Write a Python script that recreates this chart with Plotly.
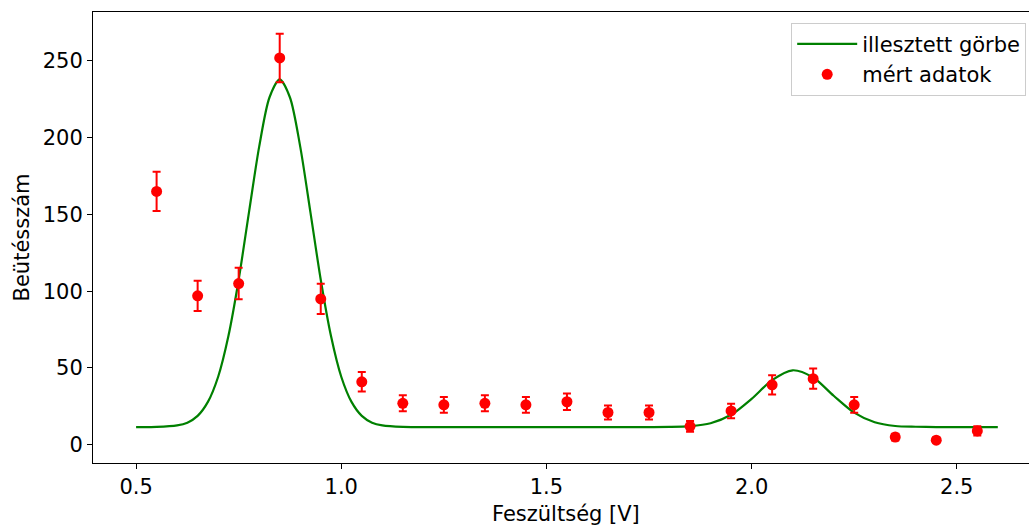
import plotly.graph_objects as go

# measured points
voltage = [0.55, 0.65, 0.75, 0.85, 0.95, 1.05, 1.15, 1.25, 1.35, 1.45, 1.55,
           1.65, 1.75, 1.85, 1.95, 2.05, 2.15, 2.25, 2.35, 2.45, 2.55]
counts = [165, 97, 105, 252, 95, 41, 27, 26, 27, 26, 28,
          21, 21, 12, 22, 39, 43, 26, 5, 3, 9]
count_err = [12.8, 9.9, 10.3, 15.8, 9.8, 6.4, 5.2, 5.1, 5.2, 5.1, 5.3,
             4.6, 4.6, 3.5, 4.7, 6.2, 6.6, 5.1, 2.2, 1.7, 3.0]

# fitted curve
fit_x = [0.50, 0.55, 0.60, 0.625, 0.65, 0.675, 0.70, 0.725, 0.75, 0.775, 0.80, 0.825,
         0.85, 0.875, 0.90, 0.925, 0.95, 0.975, 1.00, 1.025, 1.05, 1.075, 1.10,
         1.15, 1.20, 1.40, 1.60, 1.75, 1.80, 1.85, 1.90, 1.95, 2.00, 2.05, 2.10,
         2.15, 2.20, 2.25, 2.30, 2.35, 2.40, 2.45, 2.50, 2.60]
fit_y = [11.5, 11.6, 12.6, 14.4, 18.8, 27.9, 44.3, 70.8, 107.5, 151.2, 194.2, 226.2,
         238.0, 226.2, 194.2, 151.2, 107.5, 70.8, 44.3, 27.9, 18.8, 14.4, 12.6,
         11.6, 11.5, 11.5, 11.5, 11.5, 11.6, 12.1, 14.0, 19.5, 29.9, 42.1, 48.5,
         43.8, 31.9, 20.9, 14.6, 12.2, 11.7, 11.5, 11.5, 11.5]

x_ticks = [0.5, 1.0, 1.5, 2.0, 2.5]
y_ticks = [0, 50, 100, 150, 200, 250]

FONT = "DejaVu Sans"
FONT_SIZE = 21

fig = go.Figure()

fig.add_trace(
    go.Scatter(
        x=fit_x,
        y=fit_y,
        mode="lines",
        name="illesztett görbe",
        line=dict(color="green", width=2.2, shape="spline", smoothing=0.8)
    )
)

fig.add_trace(
    go.Scatter(
        x=voltage,
        y=counts,
        mode="markers",
        name="mért adatok",
        marker=dict(color="red", size=11),
        error_y=dict(type="data", array=count_err, color="red", thickness=2, width=4)
    )
)

# axis titles as annotations for exact placement
fig.add_annotation(
    text="Feszültség [V]", xref="paper", yref="paper",
    x=0.5053, y=-0.113, xanchor="center", yanchor="middle",
    showarrow=False, font=dict(size=FONT_SIZE)
)
fig.add_annotation(
    text="Beütésszám", xref="paper", yref="paper",
    x=-0.0759, y=0.5, xanchor="center", yanchor="middle",
    textangle=-90, showarrow=False, font=dict(size=FONT_SIZE)
)

fig.update_layout(
    width=1029,
    height=528,
    template="plotly_white",
    plot_bgcolor="white",
    paper_bgcolor="white",
    font=dict(family=FONT, size=FONT_SIZE, color="black"),
    margin=dict(l=93, r=0, t=12, b=65),
    legend=dict(
        x=0.997, y=0.976, xanchor="right", yanchor="top",
        bgcolor="rgba(255,255,255,0.8)",
        bordercolor="#cccccc", borderwidth=1,
        font=dict(size=FONT_SIZE),
        tracegroupgap=0,
        itemwidth=60
    ),
    xaxis=dict(
        automargin=False,
        range=[0.395, 2.676],
        tickvals=x_ticks,
        ticktext=[f"{v:.1f}" for v in x_ticks],
        showgrid=False, zeroline=False,
        showline=True, linecolor="black", linewidth=1, mirror=True,
        ticks="outside", ticklen=5, tickcolor="black"
    ),
    yaxis=dict(
        automargin=False,
        range=[-11.9, 281.9],
        tickvals=y_ticks,
        showgrid=False, zeroline=False,
        showline=True, linecolor="black", linewidth=1,
        ticks="outside", ticklen=5, tickcolor="black"
    )
)

# drop the default page margin so the figure fills the window exactly
fig.write_html(
    "out.html",
    config={"displayModeBar": False},
    post_script="document.body.style.margin='0px'; document.body.style.overflow='hidden';"
)
